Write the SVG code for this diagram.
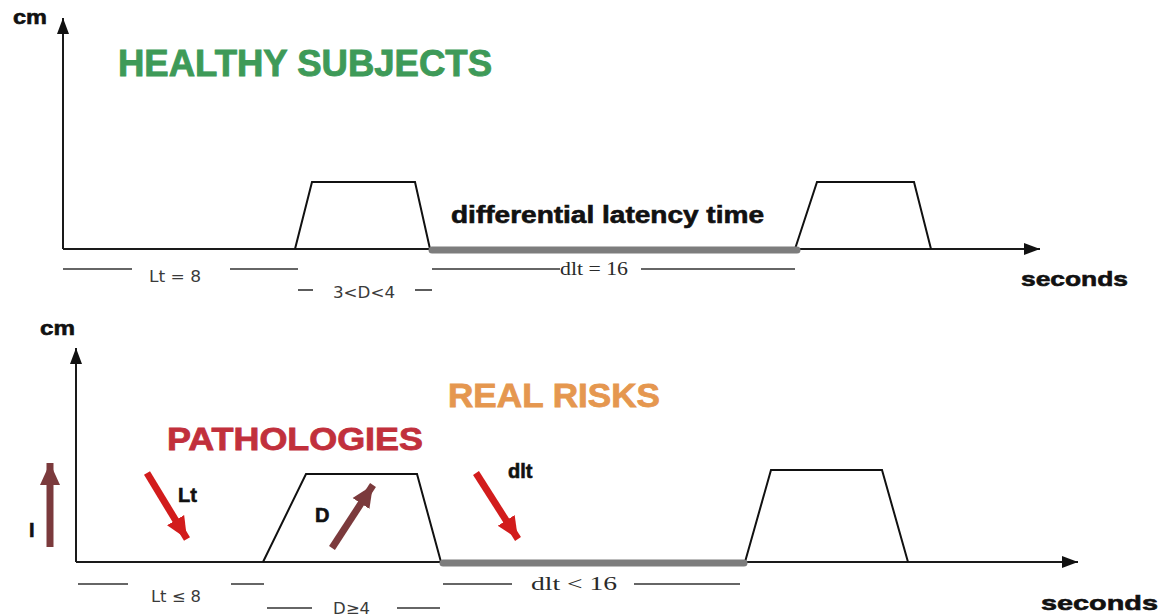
<svg xmlns="http://www.w3.org/2000/svg" width="1163" height="616" viewBox="0 0 1163 616">
<style>
.ax{stroke:#1a1a1a;stroke-width:2;fill:none}
.trap{stroke:#111;stroke-width:2;fill:none;stroke-linejoin:miter}
.bar{stroke:#7d7d7d;stroke-width:7;stroke-linecap:round}
.dim{stroke:#333;stroke-width:1.6}
.b{font-family:"Liberation Sans",Arial,sans-serif;font-weight:bold;fill:#111;stroke:#111;stroke-width:0.6}
.s{font-family:"DejaVu Sans Condensed","Liberation Sans",sans-serif;fill:#3a3a3a;font-size:16px}
.sr{font-family:"Liberation Serif","Times New Roman",serif;fill:#2a2a2a;font-size:18px}
.red{stroke:#d21c1c;stroke-width:7}
.brn{stroke:#7b3a3c;stroke-width:7}
</style>
<defs>
<marker id="ah" markerUnits="userSpaceOnUse" markerWidth="18" markerHeight="14" refX="16" refY="7" orient="auto">
<path d="M0,1 L16,7 L0,13 Z" fill="#111"/>
</marker>
<marker id="ahR" markerUnits="userSpaceOnUse" markerWidth="24" markerHeight="24" refX="22" refY="12" orient="auto">
<path d="M0,2 L22,12 L0,22 Z" fill="#d21c1c"/>
</marker>
<marker id="ahB" markerUnits="userSpaceOnUse" markerWidth="24" markerHeight="24" refX="22" refY="12" orient="auto">
<path d="M0,2 L22,12 L0,22 Z" fill="#7b3a3c"/>
</marker>
</defs>
<rect width="1163" height="616" fill="#fff"/>

<g id="chart-healthy">
<line class="ax" x1="63" y1="249" x2="63" y2="18" marker-end="url(#ah)"/>
<line class="ax" x1="63" y1="249" x2="1040" y2="249" marker-end="url(#ah)"/>
<polyline class="trap" points="295,249 312,182 415,182 430,249"/>
<polyline class="trap" points="795,249 817,182 914,182 931,249"/>
<line class="bar" x1="432" y1="250" x2="797" y2="250"/>
<text class="b" x="13" y="24" font-size="21" textLength="34" lengthAdjust="spacingAndGlyphs">cm</text>
<text class="b" x="118" y="76" font-size="36" style="fill:#3e9a58;stroke:#3e9a58;stroke-width:0.9" textLength="374" lengthAdjust="spacingAndGlyphs">HEALTHY SUBJECTS</text>
<text class="b" x="451" y="223" font-size="23" textLength="313" lengthAdjust="spacingAndGlyphs">differential latency time</text>
<text class="b" x="1021" y="286" font-size="21" textLength="107" lengthAdjust="spacingAndGlyphs">seconds</text>
</g>

<g id="dims-healthy">
<line class="dim" x1="63" y1="269" x2="132" y2="269"/>
<line class="dim" x1="230" y1="269" x2="298" y2="269"/>
<line class="dim" x1="432" y1="269" x2="560" y2="269"/>
<line class="dim" x1="641" y1="269" x2="795" y2="269"/>
<line class="dim" x1="298" y1="290" x2="313" y2="290"/>
<line class="dim" x1="415" y1="290" x2="432" y2="290"/>
<text class="s" x="149" y="282" textLength="52" lengthAdjust="spacingAndGlyphs">Lt = 8</text>
<text class="s" x="333" y="298" textLength="62" lengthAdjust="spacingAndGlyphs">3&lt;D&lt;4</text>
<text class="sr" x="560" y="275" textLength="68" lengthAdjust="spacingAndGlyphs">dlt = 16</text>
</g>

<g id="chart-pathologies">
<line class="ax" x1="76" y1="562" x2="76" y2="348" marker-end="url(#ah)"/>
<line class="ax" x1="76" y1="562" x2="1078" y2="562" marker-end="url(#ah)"/>
<polyline class="trap" points="263,562 306,474 417,474 441,562"/>
<polyline class="trap" points="745,562 771,470 882,470 908,562"/>
<line class="bar" x1="443" y1="563" x2="744" y2="563"/>
<text class="b" x="40" y="335" font-size="21" textLength="35" lengthAdjust="spacingAndGlyphs">cm</text>
<text class="b" x="448" y="407" font-size="33" style="fill:#e5974f;stroke:#e5974f;stroke-width:0.8" textLength="212" lengthAdjust="spacingAndGlyphs">REAL RISKS</text>
<text class="b" x="167" y="450" font-size="31" style="fill:#c1303c;stroke:#c1303c;stroke-width:0.8" textLength="256" lengthAdjust="spacingAndGlyphs">PATHOLOGIES</text>
<text class="b" x="1041" y="610" font-size="21" textLength="117" lengthAdjust="spacingAndGlyphs">seconds</text>
</g>

<g id="indicators">
<line class="brn" x1="50" y1="547" x2="50" y2="463" marker-end="url(#ahB)"/>
<text class="b" x="29" y="537" font-size="20">I</text>
<line class="red" x1="147" y1="473" x2="187" y2="539" marker-end="url(#ahR)"/>
<text class="b" x="178" y="502" font-size="20">Lt</text>
<line class="brn" x1="332" y1="548" x2="373" y2="485" marker-end="url(#ahB)"/>
<text class="b" x="315" y="522" font-size="20">D</text>
<line class="red" x1="476" y1="473" x2="518" y2="539" marker-end="url(#ahR)"/>
<text class="b" x="508" y="478" font-size="20">dlt</text>
</g>

<g id="dims-pathologies">
<line class="dim" x1="78" y1="584" x2="128" y2="584"/>
<line class="dim" x1="231" y1="584" x2="264" y2="584"/>
<line class="dim" x1="443" y1="584" x2="512" y2="584"/>
<line class="dim" x1="634" y1="584" x2="740" y2="584"/>
<line class="dim" x1="267" y1="608" x2="312" y2="608"/>
<line class="dim" x1="397" y1="608" x2="440" y2="608"/>
<text class="s" x="151" y="602" textLength="50" lengthAdjust="spacingAndGlyphs">Lt ≤ 8</text>
<text class="s" x="333" y="614" textLength="37" lengthAdjust="spacingAndGlyphs">D≥4</text>
<text class="sr" x="531" y="590" textLength="86" lengthAdjust="spacingAndGlyphs">dlt &lt; 16</text>
</g>
</svg>
